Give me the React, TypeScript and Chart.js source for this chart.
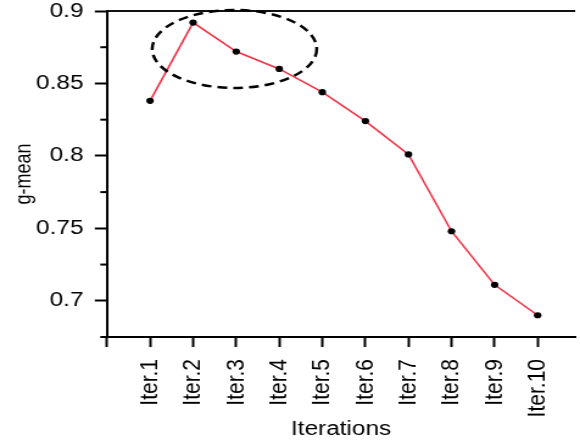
import React, { useEffect, useRef } from "react";
import { Chart, registerables } from "chart.js";

Chart.register(...registerables);

// Iteration index (x position) and g-mean score for each iteration
const iterations = [1, 2, 3, 4, 5, 6, 7, 8, 9, 10];
const gMean = [0.838, 0.892, 0.872, 0.86, 0.844, 0.824, 0.801, 0.748, 0.711, 0.69];

// Axis ticks
const xTickValues = [0, 1, 2, 3, 4, 5, 6, 7, 8, 9, 10];
const yMajorTicks = [0.7, 0.75, 0.8, 0.85, 0.9];
const yMinorTicks = [0.675, 0.725, 0.775, 0.825, 0.875];

// Highlighted region around the early peak (centre and radii in data units)
const highlightCenter = { x: 2.96, y: 0.8738 };
const highlightRadius = { x: 1.91, y: 0.0269 };

const CANVAS_W = 476;
const CANVAS_H = 441;
const STRETCH = 580 / CANVAS_W;
const FONT = "'Liberation Sans', Arial, sans-serif";

const decorations = {
  id: "decorations",
  afterDraw(chart: any) {
    const { ctx, chartArea, scales } = chart;
    const xs = scales.x;
    const ys = scales.y;
    ctx.save();
    // top frame line
    ctx.strokeStyle = "#111";
    ctx.lineWidth = 2;
    ctx.beginPath();
    ctx.moveTo(chartArea.left, chartArea.top);
    ctx.lineTo(chartArea.right, chartArea.top);
    ctx.stroke();
    // minor y ticks
    ctx.strokeStyle = "#000";
    for (const v of yMinorTicks) {
      const py = ys.getPixelForValue(v);
      ctx.beginPath();
      ctx.moveTo(chartArea.left - 5.5, py);
      ctx.lineTo(chartArea.left, py);
      ctx.stroke();
    }
    // dashed highlight ellipse
    const cx = xs.getPixelForValue(highlightCenter.x);
    const cy = ys.getPixelForValue(highlightCenter.y);
    const rx = Math.abs(xs.getPixelForValue(highlightCenter.x + highlightRadius.x) - cx);
    const ry = Math.abs(ys.getPixelForValue(highlightCenter.y + highlightRadius.y) - cy);
    ctx.setLineDash([8, 5]);
    ctx.lineWidth = 2.5;
    ctx.beginPath();
    ctx.ellipse(cx, cy, rx, ry, 0, 0, Math.PI * 2);
    ctx.stroke();
    ctx.restore();
  },
};

export default function App() {
  const canvasRef = useRef<HTMLCanvasElement | null>(null);

  useEffect(() => {
    document.body.style.margin = "0";
    const canvas = canvasRef.current;
    if (!canvas) return;
    const chart = new Chart(canvas, {
      type: "line",
      data: {
        datasets: [
          {
            data: iterations.map((it, i) => ({ x: it, y: gMean[i] })),
            borderColor: "#ef3448",
            borderWidth: 1.6,
            pointBackgroundColor: "#000",
            pointBorderColor: "#000",
            pointRadius: 3.1,
            pointBorderWidth: 0,
            clip: false as any,
          },
        ],
      },
      options: {
        animation: false,
        responsive: false,
        devicePixelRatio: 1,
        layout: { padding: { top: 11, left: 0, right: 0, bottom: 0 } },
        plugins: {
          legend: { display: false },
          tooltip: { enabled: false },
        },
        scales: {
          x: {
            type: "linear",
            min: 0,
            max: 10.87,
            afterBuildTicks: (s: any) => {
              s.ticks = xTickValues.map((v) => ({ value: v }));
            },
            afterFit: (s: any) => {
              s.height = 104;
              s.paddingLeft = 0;
              s.paddingRight = 0;
            },
            ticks: {
              autoSkip: false,
              minRotation: 90,
              maxRotation: 90,
              padding: 12,
              color: "#000",
              font: { family: FONT, size: 21 },
              callback: (v: any) => (v === 0 ? "" : "Iter." + v),
            },
            grid: {
              drawOnChartArea: false,
              drawTicks: true,
              tickLength: 10,
              tickWidth: 2,
              tickColor: "#000",
              color: "#000",
            },
            border: { display: true, color: "#000", width: 2 },
            title: {
              display: true,
              text: "Iterations",
              color: "#000",
              font: { family: FONT, size: 20 },
              padding: { top: 0, bottom: 0 },
            },
          },
          y: {
            type: "linear",
            min: 0.675,
            max: 0.9,
            afterBuildTicks: (s: any) => {
              s.ticks = yMajorTicks.map((v) => ({ value: v }));
            },
            afterFit: (s: any) => {
              s.width = 87.8;
              s.paddingTop = 0;
              s.paddingBottom = 0;
            },
            ticks: {
              padding: 9.3,
              color: "#000",
              font: { family: FONT, size: 20 },
              callback: (v: any) => String(parseFloat(Number(v).toFixed(3))),
            },
            grid: {
              drawOnChartArea: false,
              drawTicks: true,
              tickLength: 10,
              tickWidth: 2,
              tickColor: "#000",
              color: "#000",
            },
            border: { display: true, color: "#000", width: 2 },
            title: {
              display: true,
              text: "g-mean",
              color: "#000",
              font: { family: FONT, size: 18 },
              padding: { top: 9, bottom: 0 },
            },
          },
        },
      },
      plugins: [decorations],
    });
    return () => chart.destroy();
  }, []);

  return (
    <div style={{ width: 580, height: 441, overflow: "hidden", position: "relative" }}>
      <canvas
        ref={canvasRef}
        width={CANVAS_W}
        height={CANVAS_H}
        style={{
          width: CANVAS_W + "px",
          height: CANVAS_H + "px",
          display: "block",
          transform: `scaleX(${STRETCH})`,
          transformOrigin: "0 0",
        }}
      />
    </div>
  );
}
